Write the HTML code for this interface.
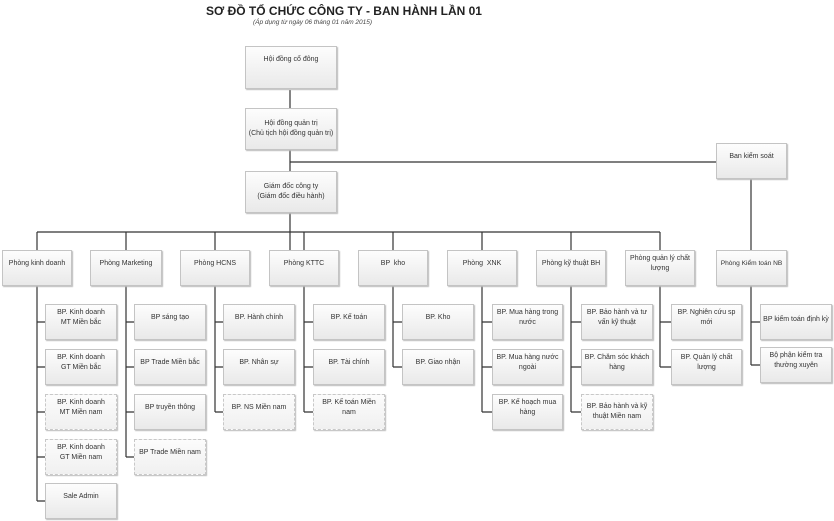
<!DOCTYPE html>
<html><head><meta charset="utf-8"><style>
body{margin:0;width:834px;height:521px;background:#fff;position:relative;overflow:hidden;font-family:"Liberation Sans","DejaVu Sans",sans-serif}
.b{position:absolute;box-sizing:border-box;border:1px solid #c4c4c4;background:linear-gradient(#fdfdfd,#e9e9e9);box-shadow:1px 1px 1px #bbb;font-size:7px;color:#333;display:flex;align-items:center;justify-content:center;text-align:center;line-height:10px;padding:0 2px}
.t{align-items:flex-start;padding-top:8px}
.d{border:1px dashed #c8c8c8;background:linear-gradient(#fcfcfc,#f0f0f0)}
svg{position:absolute;left:0;top:0}
</style></head><body>
<svg width="834" height="521"><g stroke="#333" stroke-width="1.2" fill="none">
<line x1="290" y1="90" x2="290" y2="250"/>
<line x1="290" y1="162" x2="716" y2="162"/>
<line x1="751" y1="179" x2="751" y2="252"/>
<line x1="37" y1="232" x2="660" y2="232"/>
<line x1="37" y1="232" x2="37" y2="250"/><line x1="126" y1="232" x2="126" y2="250"/><line x1="215" y1="232" x2="215" y2="250"/><line x1="304" y1="232" x2="304" y2="250"/><line x1="393" y1="232" x2="393" y2="250"/><line x1="482" y1="232" x2="482" y2="250"/><line x1="571" y1="232" x2="571" y2="250"/><line x1="660" y1="232" x2="660" y2="250"/>
<path d="M37 286V501M37 322H45M37 367H45M37 412H45M37 457H45M37 501H45"/>
<path d="M126 286V457M126 322H134M126 367H134M126 412H134M126 457H134"/>
<path d="M215 286V412M215 322H223M215 367H223M215 412H223"/>
<path d="M304 286V412M304 322H313M304 367H313M304 412H313"/>
<path d="M393 286V367M393 322H402M393 367H402"/>
<path d="M482 286V412M482 322H492M482 367H492M482 412H492"/>
<path d="M571 286V412M571 322H581M571 367H581M571 412H581"/>
<path d="M660 286V367M660 322H671M660 367H671"/>
<path d="M751 286V365M751 322H760M751 365H760"/>
</g></svg>
<div style="position:absolute;left:206px;top:4px;font-size:12px;font-weight:bold;color:#222">SƠ ĐỒ TỔ CHỨC CÔNG TY - BAN HÀNH LẦN 01</div>
<div style="position:absolute;left:253px;top:19px;font-size:6.5px;font-style:italic;color:#444">(Áp dụng từ ngày 06 tháng 01 năm 2015)</div>
<div class="b t" style="left:245px;top:46px;width:92px;height:43px">Hội đồng cổ đông</div>
<div class="b" style="left:245px;top:108px;width:92px;height:42px">Hội đồng quản trị<br>(Chủ tịch hội đồng quản trị)</div>
<div class="b" style="left:245px;top:171px;width:92px;height:42px">Giám đốc công ty<br>(Giám đốc điều hành)</div>
<div class="b t" style="left:716px;top:143px;width:71px;height:36px">Ban kiểm soát</div>
<div class="b t" style="left:2px;top:250px;width:70px;height:36px">Phòng kinh doanh</div>
<div class="b t" style="left:90px;top:250px;width:72px;height:36px">Phòng Marketing</div>
<div class="b t" style="left:180px;top:250px;width:70px;height:36px">Phòng HCNS</div>
<div class="b t" style="left:269px;top:250px;width:70px;height:36px">Phòng KTTC</div>
<div class="b t" style="left:358px;top:250px;width:70px;height:36px">BP &nbsp;kho</div>
<div class="b t" style="left:447px;top:250px;width:70px;height:36px">Phòng &nbsp;XNK</div>
<div class="b t" style="left:536px;top:250px;width:70px;height:36px">Phòng kỹ thuật BH</div>
<div class="b t" style="left:625px;top:250px;width:70px;height:36px;padding-top:3px">Phòng quản lý chất lượng</div>
<div class="b t" style="left:716px;top:250px;width:71px;height:36px;white-space:nowrap;font-size:6.6px;padding:8px 0 0">Phòng Kiểm toán NB</div>

<div class="b t" style="left:45px;top:304px;width:72px;height:36px;padding-top:3px">BP. Kinh doanh<br>MT Miền bắc</div>
<div class="b t" style="left:45px;top:349px;width:72px;height:36px;padding-top:3px">BP. Kinh doanh<br>GT Miền bắc</div>
<div class="b t d" style="left:45px;top:394px;width:72px;height:36px;padding-top:3px">BP. Kinh doanh<br>MT Miền nam</div>
<div class="b t d" style="left:45px;top:439px;width:72px;height:36px;padding-top:3px">BP. Kinh doanh<br>GT Miền nam</div>
<div class="b t" style="left:45px;top:483px;width:72px;height:36px">Sale Admin</div>

<div class="b t" style="left:134px;top:304px;width:72px;height:36px">BP sáng tạo</div>
<div class="b t" style="left:134px;top:349px;width:72px;height:36px">BP Trade Miền bắc</div>
<div class="b t" style="left:134px;top:394px;width:72px;height:36px">BP truyền thông</div>
<div class="b t d" style="left:134px;top:439px;width:72px;height:36px">BP Trade Miền nam</div>

<div class="b t" style="left:223px;top:304px;width:72px;height:36px">BP. Hành chính</div>
<div class="b t" style="left:223px;top:349px;width:72px;height:36px">BP. Nhân sự</div>
<div class="b t d" style="left:223px;top:394px;width:72px;height:36px">BP. NS Miền nam</div>

<div class="b t" style="left:313px;top:304px;width:72px;height:36px">BP. Kế toán</div>
<div class="b t" style="left:313px;top:349px;width:72px;height:36px">BP. Tài chính</div>
<div class="b t d" style="left:313px;top:394px;width:72px;height:36px;padding-top:3px">BP. Kế toán Miền<br>nam</div>

<div class="b t" style="left:402px;top:304px;width:72px;height:36px">BP. Kho</div>
<div class="b t" style="left:402px;top:349px;width:72px;height:36px">BP. Giao nhận</div>

<div class="b t" style="left:492px;top:304px;width:71px;height:36px;padding-top:3px">BP. Mua hàng trong<br>nước</div>
<div class="b t" style="left:492px;top:349px;width:71px;height:36px;padding-top:3px">BP. Mua hàng nước<br>ngoài</div>
<div class="b t" style="left:492px;top:394px;width:71px;height:36px;padding-top:3px">BP. Kế hoạch mua<br>hàng</div>

<div class="b t" style="left:581px;top:304px;width:72px;height:36px;padding-top:3px">BP. Bảo hành và tư<br>vấn kỹ thuật</div>
<div class="b t" style="left:581px;top:349px;width:72px;height:36px;padding-top:3px">BP. Chăm sóc khách<br>hàng</div>
<div class="b t d" style="left:581px;top:394px;width:72px;height:36px;padding-top:7px">BP. Bảo hành và kỹ<br>thuật Miền nam</div>

<div class="b t" style="left:671px;top:304px;width:71px;height:36px;padding-top:3px">BP. Nghiên cứu sp<br>mới</div>
<div class="b t" style="left:671px;top:349px;width:71px;height:36px;padding-top:3px">BP. Quản lý chất<br>lượng</div>

<div class="b t" style="left:760px;top:304px;width:72px;height:36px;padding:10px 0 0">BP kiểm toán định kỳ</div>
<div class="b t" style="left:760px;top:347px;width:72px;height:36px;padding-top:3px">Bộ phận kiểm tra<br>thường xuyên</div>
</body></html>
